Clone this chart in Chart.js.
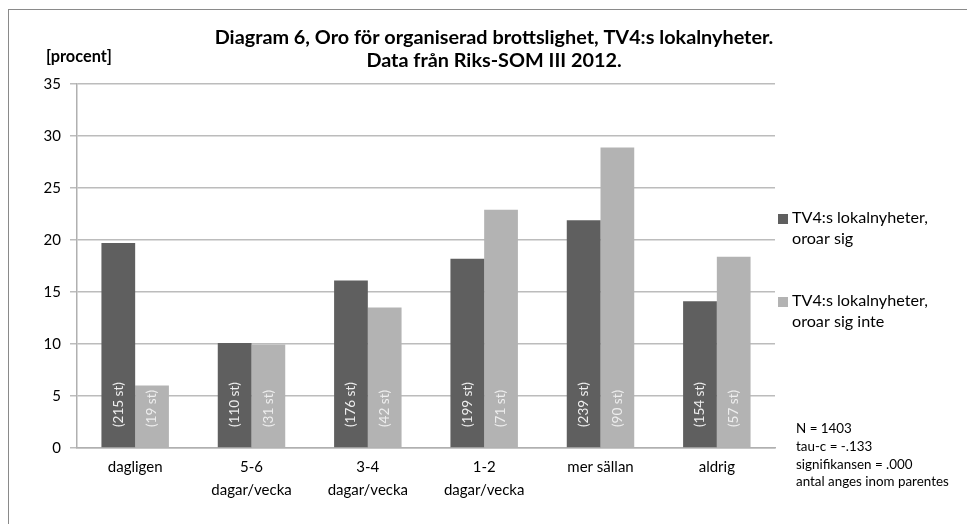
<!DOCTYPE html>
<html>
<head>
<meta charset="utf-8">
<script src="https://cdn.jsdelivr.net/npm/chart.js@4"></script>
<style>
  html, body { margin: 0; padding: 0; background: #fff; }
  #wrap { width: 967px; height: 524px; position: relative; }
</style>
</head>
<body>
<div id="wrap"><canvas id="chart" width="967" height="524"></canvas></div>
<script>
// Data
const categories = [['dagligen'], ['5-6', 'dagar/vecka'], ['3-4', 'dagar/vecka'], ['1-2', 'dagar/vecka'], ['mer sällan'], ['aldrig']];
const oroarSig = [19.7, 10.1, 16.1, 18.2, 21.9, 14.1];
const oroarSigInte = [6.0, 9.95, 13.5, 22.9, 28.9, 18.4];
const antalOroar = [215, 110, 176, 199, 239, 154];
const antalInte = [19, 31, 42, 71, 90, 57];
const seriesNames = [['TV4:s lokalnyheter,', 'oroar sig'], ['TV4:s lokalnyheter,', 'oroar sig inte']];
const titleLines = ['Diagram 6, Oro för organiserad brottslighet, TV4:s lokalnyheter.', 'Data från Riks-SOM III 2012.'];
const yUnit = '[procent]';
const notes = ['N = 1403', 'tau-c = -.133', 'signifikansen = .000', 'antal anges inom parentes'];

const FONT = 'Lato, "Open Sans", sans-serif';
const counts = [antalOroar, antalInte];

// storlek så att texten får en viss bredd (Calibri finns inte)
function fitSize(ctx, text, weight, width) {
  ctx.font = weight + ' 100px ' + FONT;
  return 100 * width / ctx.measureText(text).width;
}

// ram, titel, legend och noter
const decorPlugin = {
  id: 'decor',
  beforeDraw(chart) {
    const ctx = chart.ctx;
    ctx.save();
    ctx.strokeStyle = '#8a8a8a';
    ctx.lineWidth = 1;
    ctx.strokeRect(8.5, 9.5, 1000, 600);
    ctx.restore();
  },
  afterDraw(chart) {
    const ctx = chart.ctx;
    ctx.save();
    ctx.fillStyle = '#000';
    ctx.textBaseline = 'alphabetic';

    // titel
    ctx.textAlign = 'center';
    const ts = fitSize(ctx, titleLines[0], 'bold', 559);
    ctx.font = 'bold ' + ts + 'px ' + FONT;
    ctx.fillText(titleLines[0], 494, 44);
    ctx.fillText(titleLines[1], 494, 67);

    ctx.textAlign = 'left';
    const us = fitSize(ctx, yUnit, 'bold', 66);
    ctx.font = 'bold ' + us + 'px ' + FONT;
    ctx.fillText(yUnit, 46, 62);

    // legend
    ctx.textBaseline = 'middle';
    const legendY = [218, 301];
    const ls = fitSize(ctx, seriesNames[0][0], 'normal', 136);
    ctx.font = ls + 'px ' + FONT;
    chart.data.datasets.forEach((ds, i) => {
      ctx.fillStyle = ds.backgroundColor;
      ctx.fillRect(778, legendY[i] - 4, 10, 10);
      ctx.fillStyle = '#000';
      seriesNames[i].forEach((t, j) => ctx.fillText(t, 792, legendY[i] + j * 21));
    });

    // noter
    const ns = fitSize(ctx, notes[3], 'normal', 153);
    ctx.font = ns + 'px ' + FONT;
    notes.forEach((t, j) => ctx.fillText(t, 796, 429 + j * 17.7));

    // antal i staplarna
    const bs = fitSize(ctx, '(110 st)', 'normal', 45);
    ctx.font = bs + 'px ' + FONT;
    ctx.fillStyle = '#eeeeee';
    const base = chart.scales.y.getPixelForValue(0);
    chart.data.datasets.forEach((ds, i) => {
      chart.getDatasetMeta(i).data.forEach((bar, k) => {
        ctx.save();
        ctx.translate(bar.x, base - 21);
        ctx.rotate(-Math.PI / 2);
        ctx.textAlign = 'left';
        ctx.textBaseline = 'middle';
        ctx.fillText('(' + counts[i][k] + ' st)', 0, 0);
        ctx.restore();
      });
    });
    ctx.restore();
  }
};

new Chart(document.getElementById('chart'), {
  type: 'bar',
  data: {
    labels: categories,
    datasets: [
      { label: seriesNames[0].join(' '), data: oroarSig, backgroundColor: '#5f5f5f' },
      { label: seriesNames[1].join(' '), data: oroarSigInte, backgroundColor: '#b3b3b3' }
    ]
  },
  options: {
    responsive: false,
    animation: false,
    layout: { padding: { left: 0, right: 192, top: 84, bottom: 0 } },
    datasets: { bar: { barPercentage: 1.0, categoryPercentage: 0.58 } },
    plugins: { legend: { display: false }, tooltip: { enabled: false }, title: { display: false } },
    scales: {
      x: {
        grid: { display: false, drawTicks: false },
        border: { color: '#b0b0b0', width: 1.5 },
        ticks: { color: '#000', font: { family: FONT, size: 15, lineHeight: 1.5 }, padding: 8, maxRotation: 0, autoSkip: false },
        afterFit(scale) { scale.height = 76; }
      },
      y: {
        min: 0, max: 35,
        grid: { color: '#bcbcbc', tickLength: 7, lineWidth: 1.5 },
        border: { color: '#b0b0b0', width: 1.5 },
        ticks: { stepSize: 5, color: '#000', font: { family: FONT, size: 15 }, padding: 9 },
        afterFit(scale) { scale.width = 77; }
      }
    }
  },
  plugins: [decorPlugin]
});
</script>
</body>
</html>
